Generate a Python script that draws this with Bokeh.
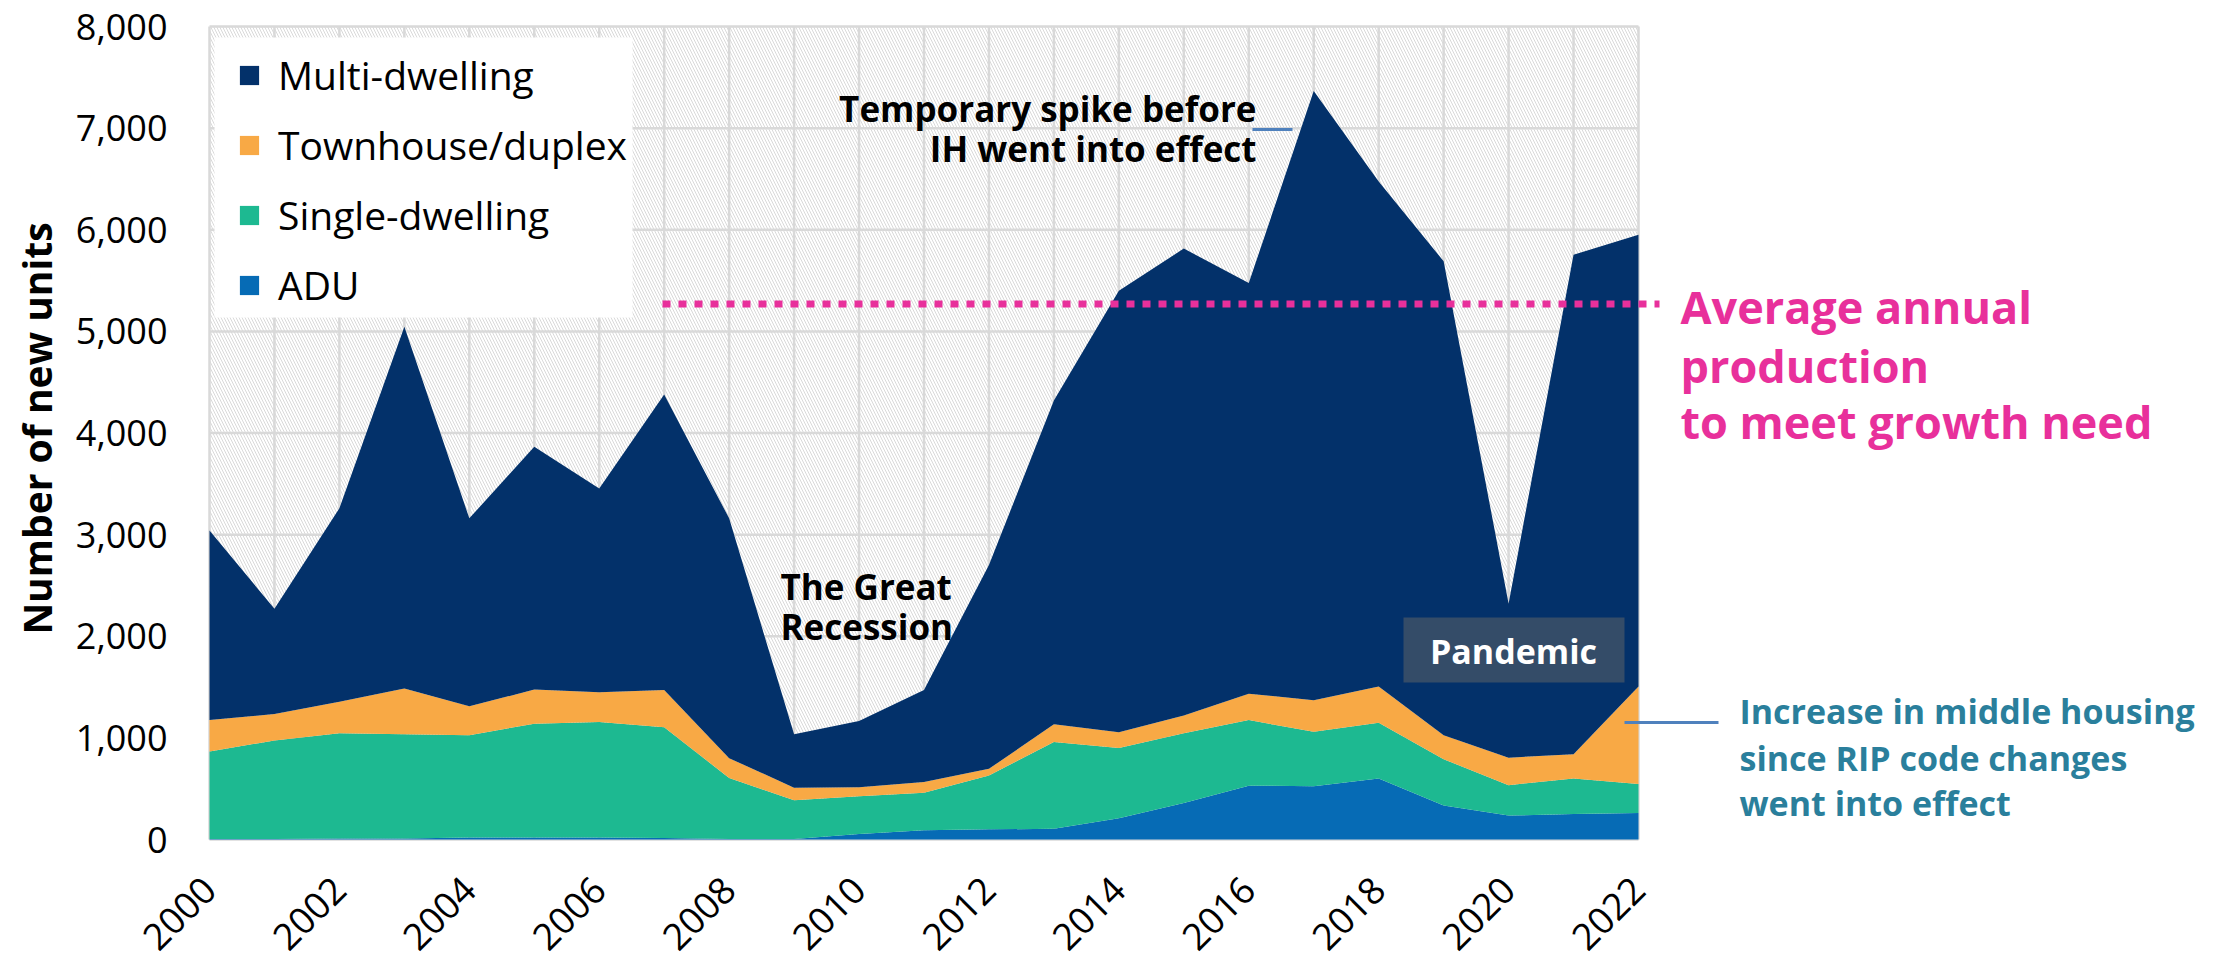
import math
from bokeh.plotting import figure
from bokeh.models import (Range1d, FixedTicker, NumeralTickFormatter, Legend,
                          LegendItem, Label, BoxAnnotation, ColumnDataSource)
from bokeh.embed import file_html
from bokeh.resources import INLINE

# ---------------- data ----------------
years = list(range(2000, 2023))
adu = [5, 5, 10, 10, 20, 20, 20, 15, 5, 5, 55, 90, 100, 105, 210, 360, 530, 525, 600, 335, 235, 250, 260]
single = [860, 970, 1035, 1025, 1005, 1120, 1135, 1090, 600, 380, 370, 370, 530, 855, 690, 685, 645, 535, 550, 455, 300, 350, 285]
townhouse = [310, 260, 310, 450, 285, 335, 295, 365, 195, 125, 90, 105, 65, 175, 155, 175, 260, 310, 355, 235, 270, 240, 960]
multi = [1865, 1035, 1905, 3560, 1850, 2390, 2005, 2910, 2360, 525, 650, 905, 2005, 3185, 4345, 4595, 4040, 5995, 4970, 4665, 1515, 4915, 4445]
series_names = ["ADU", "Single-dwelling", "Townhouse/duplex", "Multi-dwelling"]
series_colors = ["#066BB5", "#1DB991", "#F8A945", "#03316A"]
x_ticks = list(range(2000, 2023, 2))
y_ticks = list(range(0, 8001, 1000))
avg_need = 5270

# ---------------- layout ----------------
W, H = 2233, 963
FL, FT, FBOT = 209, 26, 839          # where 2000 / 8000 / 0 sit, in page pixels
PX_YEAR = 1429 / 22
Y_MAX = 8000


def fx(px):  # page pixel -> data x
    return years[0] + (px - FL) / PX_YEAR


def fy(py):  # page pixel -> data y
    return (FBOT - py) * Y_MAX / (FBOT - FT)


FONT = "Open Sans"

# the frame covers the whole canvas; the axes are pinned at x=2000 / y=0
p = figure(width=W, height=H, x_range=Range1d(fx(0), fx(W)), y_range=Range1d(fy(H), fy(0)),
           output_backend="svg", toolbar_location=None,
           min_border=0, min_border_left=0, min_border_right=0,
           min_border_top=0, min_border_bottom=0)
p.outline_line_color = None
p.grid.visible = False
p.background_fill_color = "white"
p.border_fill_color = "white"

# axes
p.xaxis.ticker = FixedTicker(ticks=x_ticks)
p.xaxis.fixed_location = 0
p.xaxis.axis_line_color = None
p.xaxis.major_label_orientation = math.pi / 4
p.xaxis.major_label_standoff = 44
p.xaxis.major_label_text_font_size = "37px"
p.yaxis.ticker = FixedTicker(ticks=y_ticks)
p.yaxis.fixed_location = years[0]
p.yaxis.formatter = NumeralTickFormatter(format="0,0")
p.yaxis.axis_line_color = None
p.yaxis.major_label_standoff = 42
p.yaxis.major_label_text_font_size = "36px"
for ax in (p.xaxis, p.yaxis):
    ax.major_tick_line_color = None
    ax.minor_tick_line_color = None
    ax.major_tick_in = 0
    ax.major_tick_out = 0
    ax.minor_tick_out = 0
    ax.major_label_text_font = FONT
    ax.major_label_text_color = "black"

# y-axis title
p.add_layout(Label(x=fx(36), y=fy(428), angle=math.pi / 2,
                   text="Number of new units", text_align="center", text_baseline="middle",
                   text_font=FONT, text_font_size="39px", text_font_style="bold",
                   text_color="black"))

# hatched plot background
p.quad(left=[years[0]], right=[years[-1]], bottom=[0], top=[Y_MAX],
       fill_alpha=0, line_color=None, hatch_pattern="\\", hatch_color="#d9d9d9",
       hatch_scale=6, hatch_weight=1)

# grid lines
p.segment(x0=years, x1=years, y0=[0] * len(years), y1=[Y_MAX] * len(years),
          line_color="#d9d9d9", line_width=2.5)
p.segment(x0=[years[0]] * len(y_ticks), x1=[years[-1]] * len(y_ticks), y0=y_ticks, y1=y_ticks,
          line_color="#d9d9d9", line_width=2.5)

# stacked areas
source = ColumnDataSource(data={"year": years, "ADU": adu, "Single-dwelling": single,
                                "Townhouse/duplex": townhouse, "Multi-dwelling": multi})
areas = p.varea_stack(stackers=series_names, x="year", color=series_colors, source=source)

# average need line
p.segment(x0=[fx(662)], x1=[fx(1659)], y0=[avg_need], y1=[avg_need],
          line_color="#E8309B", line_width=7, line_dash="8 8")

# leader lines
p.segment(x0=[fx(1252)], x1=[fx(1292)], y0=[fy(129)], y1=[fy(129)],
          line_color="#4F81BD", line_width=3)
p.segment(x0=[fx(1624)], x1=[fx(1718)], y0=[fy(722)], y1=[fy(722)],
          line_color="#4F81BD", line_width=3)

# legend (white box + transparent legend)
p.add_layout(BoxAnnotation(left=fx(214), right=fx(632), top=fy(37), bottom=fy(317),
                           fill_color="white", fill_alpha=1, line_color=None))
items = [LegendItem(label=series_names[i], renderers=[areas[i]]) for i in (3, 2, 1, 0)]
legend = Legend(items=items, location=(237, H - 311), orientation="vertical",
                background_fill_alpha=0, border_line_color=None,
                label_text_font=FONT, label_text_font_size="39px",
                label_text_color="black", glyph_width=24, glyph_height=24,
                label_height=50, label_standoff=17, spacing=17, padding=0, margin=0)
p.add_layout(legend)


def add_label(x, y, text, size, color="black", align="left"):
    p.add_layout(Label(x=x, y=y, text=text, text_align=align, text_baseline="middle",
                       text_font=FONT, text_font_size=size,
                       text_font_style="bold", text_color=color))


add_label(fx(1256), fy(108), "Temporary spike before", "35px", align="right")
add_label(fx(1256), fy(148), "IH went into effect", "35px", align="right")
add_label(fx(780), fy(586), "The Great", "35px")
add_label(fx(780), fy(626), "Recession", "35px")

p.add_layout(BoxAnnotation(left=fx(1403), right=fx(1624), top=fy(617), bottom=fy(682),
                           fill_color="#344C68", fill_alpha=1, line_color=None))
add_label(fx(1513), fy(650), "Pandemic", "34px", color="white", align="center")

magenta = "#E8309B"
add_label(fx(1680), fy(306), "Average annual", "45px", color=magenta)
add_label(fx(1680), fy(365), "production", "45px", color=magenta)
add_label(fx(1680), fy(421), "to meet growth need", "45px", color=magenta)

teal = "#2A7F9C"
add_label(fx(1739), fy(710), "Increase in middle housing", "34px", color=teal)
add_label(fx(1739), fy(757), "since RIP code changes", "34px", color=teal)
add_label(fx(1739), fy(802), "went into effect", "34px", color=teal)

open("out.html", "w").write(file_html(p, INLINE))
